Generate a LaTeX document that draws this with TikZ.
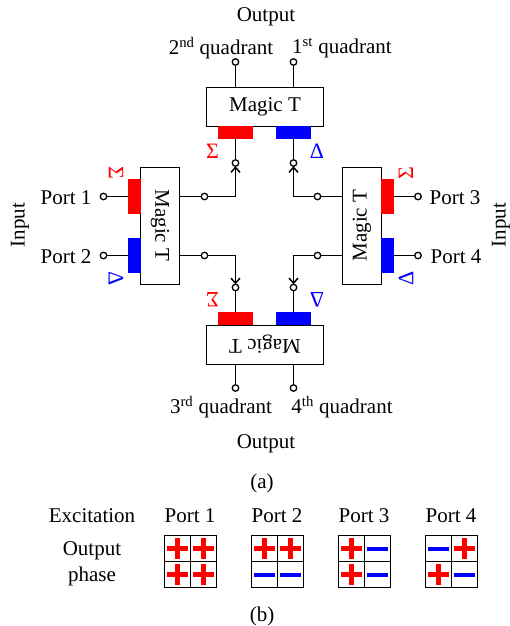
\documentclass[tikz,border=0pt]{standalone}
\usepackage{fontspec}
\setmainfont{Liberation Serif}
\usepackage{tikz}
\usetikzlibrary{arrows.meta}

\begin{document}
\begin{tikzpicture}[x=1pt, y=-1pt, >={Straight Barb[length=5pt,width=9pt]}, line width=1.5pt,
	every node/.style={font=\fontsize{21}{26}\selectfont, inner sep=0pt, outer sep=0pt},
	magic/.style={draw, line width=1pt, fill=white, minimum width=117pt, minimum height=39pt},
	term/.style={circle, draw, fill=white, line width=1.3pt, minimum size=6.5pt},
	sumbar/.style={fill=red, minimum width=35pt, minimum height=13pt},
	diffbar/.style={fill=blue, minimum width=35pt, minimum height=13pt},
	sumsign/.style={text=red, font=\fontsize{22}{24}\selectfont},
	diffsign/.style={text=blue, font=\fontsize{22}{24}\selectfont},
	cell/.style={draw, line width=1.1pt, minimum size=26pt},
	pluscell/.style={cell, path picture={
		\fill [red] ([xshift=-10.5pt,yshift=-2.5pt]path picture bounding box.center) rectangle ++(21pt,5pt);
		\fill [red] ([xshift=-2.5pt,yshift=-10.5pt]path picture bounding box.center) rectangle ++(5pt,21pt);
	}},
	minuscell/.style={cell, path picture={
		\fill [blue] ([xshift=-10.5pt,yshift=-2pt]path picture bounding box.center) rectangle ++(21pt,4pt);
	}}]
	\useasboundingbox (0,0) rectangle (509,626);

	% Magic T boxes
	\node [magic, minimum width=117pt] 	(mtop)   at (265,106.5)   {Magic T};
	\node [magic, rotate=-90] 			(mleft)  at (160,225.5)   {Magic T};
	\node [magic, rotate=90] 			(mright) at (362,225.5)   {Magic T};
	\node [magic, rotate=180] 			(mbot)   at (265,344.5)   {Magic T};

	% Sum and difference bars
	\node [sumbar] 					(stop)   at (235.5,132.5) {};
	\node [diffbar] 				(dtop)   at (293.5,132.5) {};
	\node [sumbar, rotate=90] 		(sleft)  at (134,196.5)   {};
	\node [diffbar, rotate=90] 		(dleft)  at (134,255.5)   {};
	\node [sumbar, rotate=90] 		(sright) at (387.5,196.5) {};
	\node [diffbar, rotate=90] 		(dright) at (387.5,255.5) {};
	\node [sumbar] 					(sbot)   at (235.5,318.5) {};
	\node [diffbar] 				(dbot)   at (293.5,318.5) {};

	% Sum and difference signs
	\node [sumsign] 				(lstop)   at (212.5,151.5) {Σ};
	\node [diffsign] 				(ldtop)   at (317,151.5)   {Δ};
	\node [sumsign, rotate=-90] 	(lsleft)  at (116,172.5)   {Σ};
	\node [diffsign, rotate=-90] 	(ldleft)  at (116,278.5)   {Δ};
	\node [sumsign, rotate=90] 		(lsright) at (406,173.5)   {Σ};
	\node [diffsign, rotate=90] 	(ldright) at (406,278.5)   {Δ};
	\node [sumsign, rotate=180] 	(lsbot)   at (212.5,299.5) {Σ};
	\node [diffsign, rotate=180] 	(ldbot)   at (317,299.5)   {Δ};

	% Terminals
	\node [term] 	(q2)  at (235.5,62)  {};
	\node [term] 	(q1)  at (293.5,62)  {};
	\node [term] 	(p1)  at (103.5,196.5) {};
	\node [term] 	(p2)  at (103.5,255.5) {};
	\node [term] 	(p3)  at (418,196.5) {};
	\node [term] 	(p4)  at (418,255.5) {};
	\node [term] 	(q3)  at (235.5,388) {};
	\node [term] 	(q4)  at (293.5,388) {};
	\node [term] 	(ts)  at (235.5,163) {};
	\node [term] 	(td)  at (293.5,163) {};
	\node [term] 	(bs)  at (235.5,287.5) {};
	\node [term] 	(bd)  at (293.5,287.5) {};
	\node [term] 	(ls)  at (204.5,196.5) {};
	\node [term] 	(ld)  at (204.5,255.5) {};
	\node [term] 	(rs)  at (317.5,196.5) {};
	\node [term] 	(rd)  at (317.5,255.5) {};

	% Outer lines
	\path (q2) edge (q2 |- mtop.north);
	\path (q1) edge (q1 |- mtop.north);
	\path (q3) edge (q3 |- mbot.north);
	\path (q4) edge (q4 |- mbot.north);
	\path (p1) edge (sleft);
	\path (p2) edge (dleft);
	\path (p3) edge (sright);
	\path (p4) edge (dright);

	% Inner lines
	\path (ts) edge (stop);
	\path (td) edge (dtop);
	\path (bs) edge (sbot);
	\path (bd) edge (dbot);
	\path (ls) edge (ls -| mleft.north);
	\path (ld) edge (ld -| mleft.north);
	\path (rs) edge (rs -| mright.north);
	\path (rd) edge (rd -| mright.north);
	\draw [->] (ls) -| (ts);
	\draw [->] (ld) -| (bs);
	\draw [->] (rs) -| (td);
	\draw [->] (rd) -| (bd);

	% Labels of (a)
	\node (outa) at (266,17)  {Output};
	\node (q2t)  at (221,48)  {2\textsuperscript{nd} quadrant};
	\node (q1t)  at (342,48)  {1\textsuperscript{st} quadrant};
	\node (q3t)  at (221,407) {3\textsuperscript{rd} quadrant};
	\node (q4t)  at (342,407) {4\textsuperscript{th} quadrant};
	\node (outb) at (266,444) {Output};
	\node (p1t)  at (66,198)  {Port 1};
	\node (p2t)  at (66,257)  {Port 2};
	\node (p3t)  at (455,198) {Port 3};
	\node (p4t)  at (456,257) {Port 4};
	\node [rotate=90] (inl) at (20,225)  {Input};
	\node [rotate=90] (inr) at (501,225) {Input};
	\node (capa) at (262,483) {(a)};

	% Labels of (b)
	\node (exc)  at (92,516)  {Excitation};
	\node (ex1)  at (190,516) {Port 1};
	\node (ex2)  at (277,516) {Port 2};
	\node (ex3)  at (364,516) {Port 3};
	\node (ex4)  at (451,516) {Port 4};
	\node [align=center] (phs) at (92,564) {Output\\phase};
	\node (capb) at (262,616) {(b)};

	% Phase table for port 1
	\node [pluscell] 	(a11) at (177.5,548.5) {};
	\node [pluscell] 	(a12) at (203.5,548.5) {};
	\node [pluscell] 	(a21) at (177.5,574.5) {};
	\node [pluscell] 	(a22) at (203.5,574.5) {};

	% Phase table for port 2
	\node [pluscell] 	(b11) at (264.5,548.5) {};
	\node [pluscell] 	(b12) at (290.5,548.5) {};
	\node [minuscell] 	(b21) at (264.5,574.5) {};
	\node [minuscell] 	(b22) at (290.5,574.5) {};

	% Phase table for port 3
	\node [pluscell] 	(c11) at (351.5,548.5) {};
	\node [minuscell] 	(c12) at (377.5,548.5) {};
	\node [pluscell] 	(c21) at (351.5,574.5) {};
	\node [minuscell] 	(c22) at (377.5,574.5) {};

	% Phase table for port 4
	\node [minuscell] 	(d11) at (438.5,548.5) {};
	\node [pluscell] 	(d12) at (464.5,548.5) {};
	\node [pluscell] 	(d21) at (438.5,574.5) {};
	\node [minuscell] 	(d22) at (464.5,574.5) {};

\end{tikzpicture}
\end{document}
